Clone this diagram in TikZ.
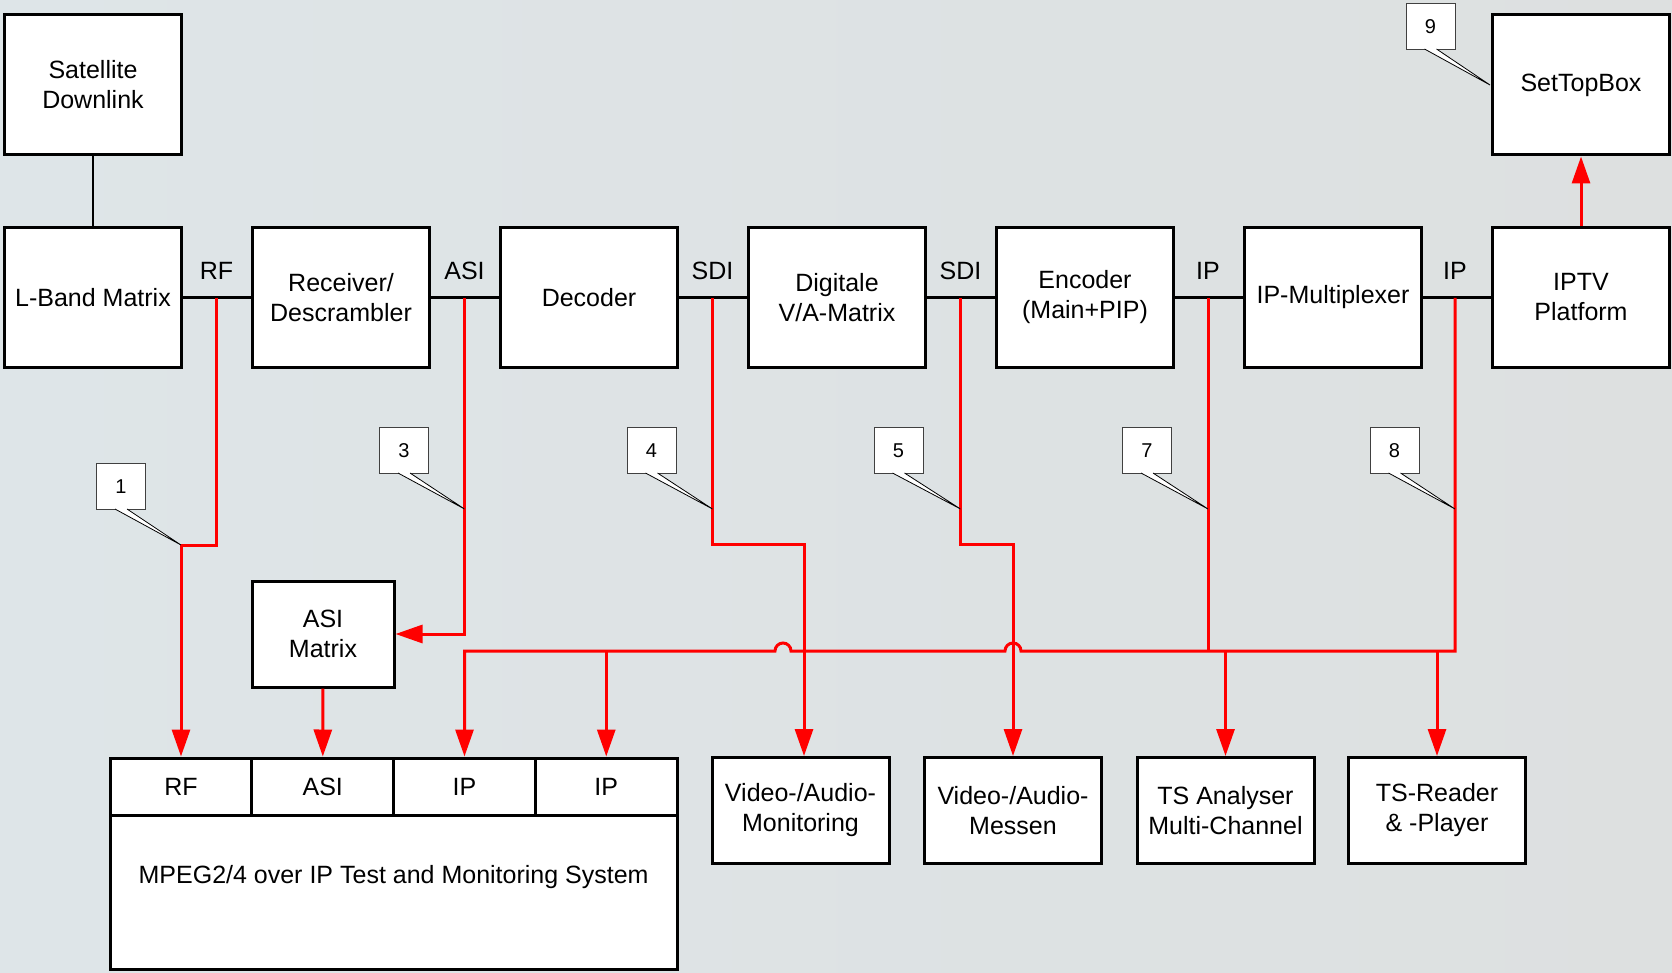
\documentclass[tikz,border=0pt]{standalone}
\usepackage{fontspec}
\setmainfont{Liberation Sans}
\usetikzlibrary{arrows.meta}

\definecolor{bgleft}{HTML}{DEE5E8}
\definecolor{bgmid}{HTML}{EBE9E8}
\definecolor{bgright}{HTML}{DDE0E0}

\begin{document}
\begin{tikzpicture}[x=1pt,y=-1pt,
		box/.style={draw,line width=3pt,fill=white,minimum width=177pt,minimum height=140pt,align=center,inner sep=0pt,font=\fontsize{25}{30}\selectfont},
		lowbox/.style={box,minimum height=106pt},
		cell/.style={box,minimum width=141.75pt,minimum height=57pt},
		lbl/.style={font=\fontsize{25}{30}\selectfont},
		callbox/.style={draw=black!75,line width=1pt,fill=white,minimum width=49pt,minimum height=46pt,inner sep=0pt,font=\fontsize{20}{22}\selectfont},
		callptr/.style={fill=white,draw=black,line width=0.8pt},
		wire/.style={line width=2.8pt},
		sig/.style={red,line width=3pt},
		arr/.style={sig,-{Triangle[length=27pt,width=18pt]}}]
		
		\useasboundingbox (0,0) rectangle (1672,973);
		\shade[left color=bgleft,middle color=bgmid,right color=bgright] (0,0) rectangle (1672,973);
		
		\node[box] (satdl) at (93,85) {Satellite\\Downlink};
		\node[box] (stb) at (1581,85) {SetTopBox};
		
		\node[box] (lband) at (93,297.5) {L-Band Matrix};
		\node[box] (recv) at (341,297.5) {Receiver/\\Descrambler};
		\node[box] (dec) at (589,297.5) {Decoder};
		\node[box] (vamatrix) at (837,297.5) {Digitale\\V/A-Matrix};
		\node[box] (enc) at (1085,297.5) {Encoder\\(Main+PIP)};
		\node[box] (ipmux) at (1333,297.5) {IP-Multiplexer};
		\node[box] (iptv) at (1581,297.5) {IPTV\\Platform};
		
		\draw[wire] (satdl) -- (lband);
		\draw[wire] (lband) -- (recv);
		\draw[wire] (recv) -- (dec);
		\draw[wire] (dec) -- (vamatrix);
		\draw[wire] (vamatrix) -- (enc);
		\draw[wire] (enc) -- (ipmux);
		\draw[wire] (ipmux) -- (iptv);
		
		\node[lbl] (lrf) at (216.5,271) {RF};
		\node[lbl] (lasi) at (464.5,271) {ASI};
		\node[lbl] (lsdia) at (712.5,271) {SDI};
		\node[lbl] (lsdib) at (960.5,271) {SDI};
		\node[lbl] (lipa) at (1208,271) {IP};
		\node[lbl] (lipb) at (1455,271) {IP};
		
		\node[lowbox,minimum width=142pt] (asimat) at (323,634) {ASI\\Matrix};
		
		\node[cell] (rfin) at (181,786.5) {RF};
		\node[cell] (asiin) at (322.75,786.5) {ASI};
		\node[cell] (ipina) at (464.5,786.5) {IP};
		\node[cell] (ipinb) at (606.25,786.5) {IP};
		\node[box,minimum width=567pt,minimum height=154pt] (mpeg) at (393.6,892) {};
		\node[lbl] (mpegtxt) at (393.6,877) {MPEG2/4 over IP Test and Monitoring System};
		
		\node[lowbox] (vamon) at (800.5,810.5) {Video-/Audio-\\Monitoring};
		\node[lowbox] (vamess) at (1013,810.5) {Video-/Audio-\\Messen};
		\node[lowbox] (tsana) at (1225.5,810.5) {TS Analyser\\Multi-Channel};
		\node[lowbox] (tsread) at (1437,810.5) {TS-Reader\\\& -Player};
		
		\coordinate (tap1) at (216.5,298);
		\coordinate (tap2) at (464.5,298);
		\coordinate (tap3) at (712.5,298);
		\coordinate (tap4) at (960.5,298);
		\coordinate (tap5) at (1208,298);
		\coordinate (tap6) at (1455,298);
		\coordinate (bend1) at (181,545);
		\coordinate (bend3) at (804,544);
		\coordinate (bend4) at (1013,544);
		\coordinate (hopb) at (1021,651);
		\coordinate (hopa) at (791,651);
		\coordinate (j5) at (1208,651);
		\coordinate (d4) at (606.25,651);
		\coordinate (d7) at (1225.5,651);
		\coordinate (d8) at (1437,651);
		
		\draw[arr] (tap1) |- (bend1) -- (rfin);
		\draw[arr] (tap2) |- (asimat);
		\draw[arr] (asimat) -- (asiin);
		\draw[arr] (tap3) |- (bend3) -- (bend3 |- vamon.north);
		\draw[arr] (tap4) |- (bend4) -- (vamess);
		\draw[sig] (tap5) -- (j5);
		\draw[arr] (tap6) |- (hopb) arc[start angle=0,end angle=180,radius=8pt] -- (hopa) arc[start angle=0,end angle=180,radius=8pt] -| (ipina);
		\draw[arr] (d4) -- (ipinb);
		\draw[arr] (d7) -- (tsana);
		\draw[arr] (d8) -- (tsread);
		\draw[arr] (iptv) -- (stb);
		
		\coordinate (t3) at (464.5,509);
		\coordinate (t4) at (712.5,509);
		\coordinate (t5) at (960.5,509);
		\coordinate (t7) at (1208,509);
		\coordinate (t8) at (1455,509);
		\coordinate (t9) at (1490,85);
		
		\node[callbox] (c1) at (121,486.5) {1};
		\filldraw[callptr] ([xshift=-6pt,yshift=1pt]c1.south) -- (bend1) -- ([xshift=6pt,yshift=1pt]c1.south);
		\node[callbox] (c3) at (404,450.5) {3};
		\filldraw[callptr] ([xshift=-6pt,yshift=1pt]c3.south) -- (t3) -- ([xshift=6pt,yshift=1pt]c3.south);
		\node[callbox] (c4) at (651.5,450.5) {4};
		\filldraw[callptr] ([xshift=-6pt,yshift=1pt]c4.south) -- (t4) -- ([xshift=6pt,yshift=1pt]c4.south);
		\node[callbox] (c5) at (898.5,450.5) {5};
		\filldraw[callptr] ([xshift=-6pt,yshift=1pt]c5.south) -- (t5) -- ([xshift=6pt,yshift=1pt]c5.south);
		\node[callbox] (c7) at (1147,450.5) {7};
		\filldraw[callptr] ([xshift=-6pt,yshift=1pt]c7.south) -- (t7) -- ([xshift=6pt,yshift=1pt]c7.south);
		\node[callbox] (c8) at (1394.5,450.5) {8};
		\filldraw[callptr] ([xshift=-6pt,yshift=1pt]c8.south) -- (t8) -- ([xshift=6pt,yshift=1pt]c8.south);
		\node[callbox] (c9) at (1430.5,26.5) {9};
		\filldraw[callptr] ([xshift=-6pt,yshift=1pt]c9.south) -- (t9) -- ([xshift=6pt,yshift=1pt]c9.south);
	\end{tikzpicture}
\end{document}
